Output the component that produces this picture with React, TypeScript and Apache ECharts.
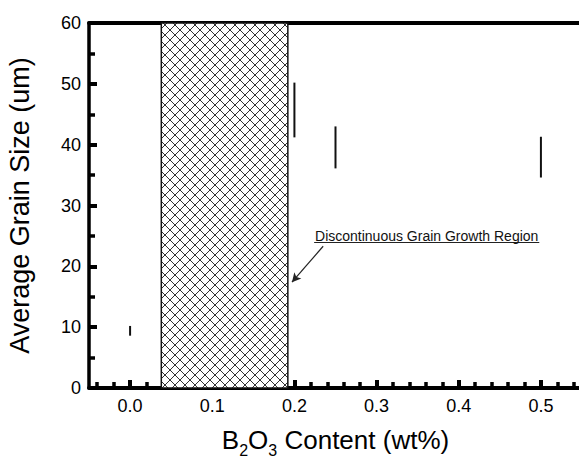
import React, { useEffect, useRef } from "react";
import * as echarts from "echarts";

// B2O3 content (wt%) of each sample
const contents = [0.0, 0.2, 0.25, 0.5];
// grain size error bar ends (um)
const sizeLow = [8.6, 41.2, 36.1, 34.6];
const sizeHigh = [10.2, 50.2, 43.0, 41.3];

// discontinuous grain growth region (wt%)
const regionStart = 0.038;
const regionEnd = 0.192;
const regionLabel = "Discontinuous Grain Growth Region";
// annotation underline and arrow (data coordinates)
const underline = [[0.224, 24.0], [0.498, 24.0]];
const arrow = [[0.235, 23.3], [0.197, 17.4]];

const xMajorTicks = [0, 0.1, 0.2, 0.3, 0.4, 0.5];
const xMinorTicks = [-0.04, -0.02, 0.02, 0.04, 0.06, 0.08, 0.12, 0.14, 0.16, 0.18, 0.22, 0.24, 0.26, 0.28, 0.32, 0.34, 0.36, 0.38, 0.42, 0.44, 0.46, 0.48, 0.52, 0.54];
const xMin = -0.05;
const xMax = 0.55;
const yMin = 0;
const yMax = 60;
const yStep = 10;

function makeHatch(): HTMLCanvasElement {
  const c = document.createElement("canvas");
  c.width = 10;
  c.height = 10;
  const ctx = c.getContext("2d")!;
  ctx.fillStyle = "#ffffff";
  ctx.fillRect(0, 0, 10, 10);
  ctx.strokeStyle = "#333333";
  ctx.lineWidth = 1;
  ctx.beginPath();
  ctx.moveTo(0, 0);
  ctx.lineTo(10, 10);
  ctx.moveTo(10, 0);
  ctx.lineTo(0, 10);
  ctx.stroke();
  return c;
}

const FONT = "'Liberation Sans', Arial, Helvetica, sans-serif";

export default function App() {
  const ref = useRef<HTMLDivElement>(null);
  useEffect(() => {
    if (!ref.current) return;
    document.body.style.margin = "0";
    const chart = echarts.init(ref.current, undefined, { renderer: "svg" });
    const hatch = makeHatch();
    const data = contents.map((x, i) => [x, sizeLow[i], sizeHigh[i]]);
    chart.setOption({
      animation: false,
      backgroundColor: "#ffffff",
      grid: { left: 89, right: -3, top: 23, bottom: 70, containLabel: false, outerBoundsMode: "none" },
      xAxis: [
        {
          type: "value",
          min: xMin,
          max: xMax,
          position: "bottom",
          axisLine: { show: true, onZero: false, lineStyle: { color: "#000", width: 4 } },
          axisTick: {
            show: true,
            inside: true,
            length: 8,
            customValues: xMajorTicks,
            lineStyle: { color: "#000", width: 4 },
          },
          axisLabel: {
            show: true,
            customValues: xMajorTicks,
            formatter: (v: number) => v.toFixed(1),
            fontFamily: FONT,
            fontSize: 18,
            color: "#000",
            margin: 9,
          },
          splitLine: { show: false },
          name: "B{s|2}O{s|3} Content (wt%)",
          nameLocation: "middle",
          nameGap: 39,
          nameTextStyle: {
            fontFamily: FONT,
            fontSize: 26,
            color: "#000",
            rich: {
              s: { fontFamily: FONT, fontSize: 16, color: "#000", verticalAlign: "top", padding: [15, 0, 0, 0], lineHeight: 16 },
            },
          },
        },
        {
          type: "value",
          min: xMin,
          max: xMax,
          position: "bottom",
          axisLine: { show: false, onZero: false },
          axisTick: {
            show: true,
            inside: true,
            length: 6,
            customValues: xMinorTicks,
            lineStyle: { color: "#000", width: 3.5 },
          },
          axisLabel: { show: false },
          splitLine: { show: false },
        },
        {
          type: "value",
          min: xMin,
          max: xMax,
          position: "top",
          axisLine: { show: true, onZero: false, lineStyle: { color: "#000", width: 4 } },
          axisTick: { show: false },
          axisLabel: { show: false },
          splitLine: { show: false },
        },
      ],
      yAxis: {
        type: "value",
        min: yMin,
        max: yMax,
        interval: yStep,
        axisLine: { show: true, onZero: false, lineStyle: { color: "#000", width: 3.5 } },
        axisTick: { show: true, inside: true, length: 8, lineStyle: { color: "#000", width: 4 } },
        minorTick: { show: true, splitNumber: 2, length: 6, lineStyle: { color: "#000", width: 3.5 } },
        axisLabel: { fontFamily: FONT, fontSize: 18, color: "#000", margin: 8 },
        splitLine: { show: false },
        name: "Average Grain Size (um)",
        nameLocation: "middle",
        nameGap: 56,
        nameTextStyle: { fontFamily: FONT, fontSize: 27, color: "#000" },
      },
      series: [
        {
          type: "custom",
          xAxisIndex: 0,
          yAxisIndex: 0,
          data,
          renderItem: (params: any, api: any) => {
            const p1 = api.coord([api.value(0), api.value(1)]);
            const p2 = api.coord([api.value(0), api.value(2)]);
            return {
              type: "line",
              shape: { x1: p1[0], y1: p1[1], x2: p2[0], y2: p2[1] },
              style: { stroke: "#111", lineWidth: 2 },
            };
          },
          markArea: {
            silent: true,
            itemStyle: {
              color: { image: hatch, repeat: "repeat", imageWidth: 10, imageHeight: 10 },
              borderColor: "#111",
              borderWidth: 1.5,
            },
            data: [[{ xAxis: regionStart }, { xAxis: regionEnd }]],
          },
          markLine: {
            silent: true,
            symbol: ["none", "arrow"],
            symbolSize: [7, 9],
            lineStyle: { color: "#222", width: 1.2, type: "solid" },
            label: { show: false },
            data: [
              [
                {
                  coord: underline[0],
                  symbol: "none",
                  label: {
                    show: true,
                    position: "insideMiddleTop",
                    formatter: regionLabel,
                    fontFamily: FONT,
                    fontSize: 14,
                    color: "#111",
                    distance: -1,
                  },
                },
                { coord: underline[1], symbol: "none" },
              ],
              [
                { coord: arrow[0], symbol: "none" },
                { coord: arrow[1], symbol: "arrow" },
              ],
            ],
          },
        },
      ],
    });
    return () => chart.dispose();
  }, []);
  return <div ref={ref} style={{ width: 579, height: 458 }} />;
}
